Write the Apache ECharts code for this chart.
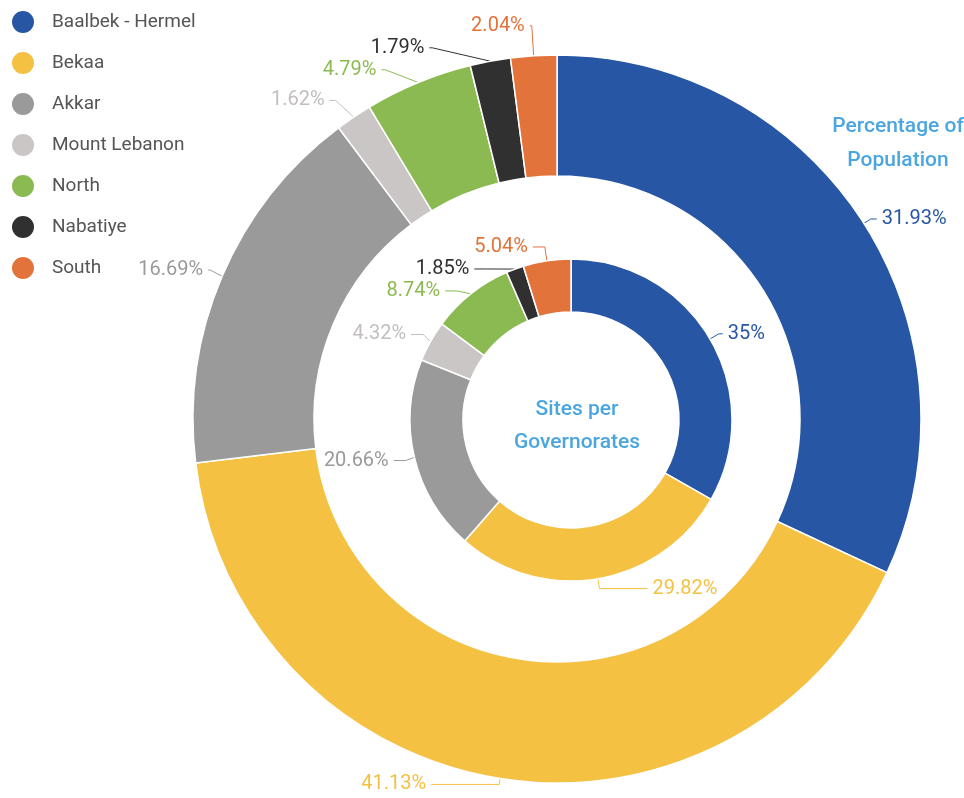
<!DOCTYPE html>
<html>
<head>
<meta charset="utf-8">
<script src="https://cdn.jsdelivr.net/npm/echarts@6/dist/echarts.min.js"></script>
<style>
  html, body { margin: 0; padding: 0; background: #fff; }
  #chart { width: 964px; height: 798px; }
</style>
</head>
<body>
<div id="chart"></div>
<script>
// governorates, in drawing order
const governorates = ['Baalbek - Hermel', 'Bekaa', 'Akkar', 'Mount Lebanon', 'North', 'Nabatiye', 'South']
const populationPct = [31.93, 41.13, 16.69, 1.62, 4.79, 1.79, 2.04]
const sitesPct = [35, 29.82, 20.66, 4.32, 8.74, 1.85, 5.04]

const colors = ['#2656a4', '#f4c143', '#9a9a9a', '#cac6c6', '#8cba52', '#303030', '#e2733a']
const labelColors = ['#2656a4', '#f4c143', '#9a9a9a', '#c2bebe', '#8cba52', '#303030', '#e2733a']

// label line tweaks so the labels sit roughly where the original put them
const outerLines = { 0: [8, 6], 1: [6, 68], 2: [16, 2], 4: [16, 4], 5: [20, 3], 6: [30, 2] }
const innerLines = { 0: [10, 4], 1: [10, 48] }

function toData (values, tweaks) {
  return values.map((v, i) => {
    const line = { lineStyle: { color: labelColors[i] } }
    if (tweaks[i]) {
      line.length = tweaks[i][0]
      line.length2 = tweaks[i][1]
    }
    return {
      name: governorates[i],
      value: v,
      label: { color: labelColors[i] },
      labelLine: line
    }
  })
}

const chart = echarts.init(document.getElementById('chart'))
const option = {
  color: colors,
  textStyle: { fontFamily: 'Roboto' },
  legend: {
    orient: 'vertical',
    left: 5,
    top: 4,
    icon: 'circle',
    itemWidth: 24,
    itemHeight: 24,
    itemGap: 15,
    textStyle: { fontSize: 19, color: '#555', padding: [0, 0, 0, 12] },
    data: governorates
  },
  title: [
    {
      text: 'Percentage of\nPopulation',
      left: 893,
      top: 105,
      textAlign: 'center',
      textStyle: { fontSize: 21, fontWeight: 500, color: '#4ba6e0', lineHeight: 34 }
    },
    {
      text: 'Sites per\nGovernorates',
      left: 572,
      top: 388,
      textAlign: 'center',
      textStyle: { fontSize: 21, fontWeight: 500, color: '#4ba6e0', lineHeight: 33 }
    }
  ],
  series: [
    {
      name: 'Percentage of Population',
      type: 'pie',
      center: [557, 419],
      radius: [243, 364],
      startAngle: 90,
      clockwise: true,
      avoidLabelOverlap: true,
      itemStyle: { borderColor: '#fff', borderWidth: 1.5 },
      label: {
        formatter: '{c}%',
        fontSize: 20,
        fontFamily: 'Roboto',
        overflow: 'none'
      },
      labelLine: { length: 20, length2: 6, smooth: false },
      emphasis: { disabled: true },
      data: toData(populationPct, outerLines)
    },
    {
      name: 'Sites per Governorates',
      type: 'pie',
      center: [571, 420],
      radius: [108, 161],
      startAngle: 90,
      clockwise: true,
      avoidLabelOverlap: true,
      itemStyle: { borderColor: '#fff', borderWidth: 1.5 },
      label: {
        formatter: '{c}%',
        fontSize: 20,
        fontFamily: 'Roboto',
        overflow: 'none'
      },
      labelLine: { length: 14, length2: 12, smooth: false },
      emphasis: { disabled: true },
      data: toData(sitesPct, innerLines)
    }
  ]
}

option && chart.setOption(option)
</script>
</body>
</html>
